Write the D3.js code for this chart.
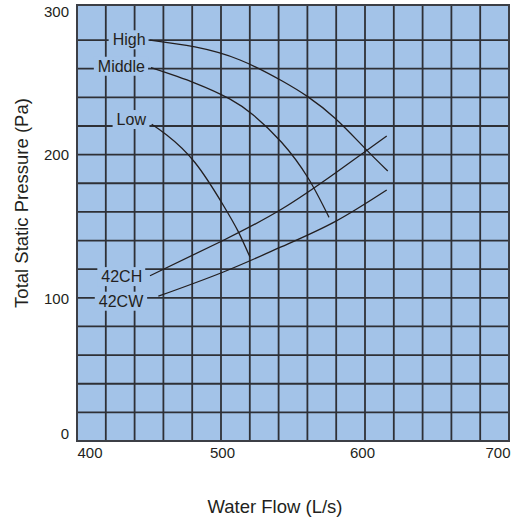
<!DOCTYPE html>
<html>

<head>
    <meta charset="utf-8">
    <script src="https://cdn.jsdelivr.net/npm/d3@7"></script>
    <style>
        body { margin: 0; background: #fff; }
        text { font-family: Arial, "Liberation Sans", sans-serif; fill: #231f20; }
    </style>
</head>

<body>
    <div id="my_dataviz"></div>
    <script>

        // ---- data (flow L/s, pressure Pa) ----
        var highCurve = [[450.7, 280], [481.9, 275.2], [513.2, 266.1], [542.2, 251.6], [560.2, 240.5], [579.2, 225.4], [600, 204.4], [615.8, 188.6]];
        var middleCurve = [[451.4, 260.7], [481.9, 250], [506.3, 238.8], [522.4, 227.7], [542.2, 208.5], [560.6, 183.5], [575, 156.2]];
        var lowCurve = [[451.9, 221.2], [462.3, 213.7], [481.9, 194.5], [502.1, 163.8], [512, 146.2], [520.1, 128.5]];
        var ch42Curve = [[450.7, 115.4], [502.1, 140.4], [542.2, 162], [579.2, 187], [615.1, 213]];
        var cw42Curve = [[456.5, 101.1], [502.1, 118.2], [542.2, 135.7], [579.2, 153.2], [615.1, 175.3]];

        var curveNames = ["High", "Middle", "Low", "42CH", "42CW"];
        var curves = [highCurve, middleCurve, lowCurve, ch42Curve, cw42Curve];
        // where each label ends (data units)
        var labelAnchors = [[447.6, 280.4], [447.2, 261.9], [447.9, 224.7], [445.3, 115], [446, 97.8]];

        var xTicks = [400, 500, 600, 700];
        var yTicks = [0, 100, 200, 300];
        var xGrid = d3.range(420, 700, 20);
        var yGrid = d3.range(20, 300, 20);

        var W = 518, H = 522;
        var plot = { left: 77, right: 509, top: 5, bottom: 441 };

        var svg = d3.select("#my_dataviz")
            .append("svg")
            .attr("width", W)
            .attr("height", H);

        var x = d3.scaleLinear().domain([400, 700]).range([plot.left, plot.right]);
        var y = d3.scaleLinear().domain([0, 304.5]).range([plot.bottom, plot.top]);

        // plot background
        svg.append("rect")
            .attr("x", plot.left)
            .attr("y", plot.top)
            .attr("width", plot.right - plot.left)
            .attr("height", plot.bottom - plot.top)
            .attr("fill", "#a3c3e8");

        // grid
        var grid = svg.append("g").attr("stroke", "#2e3036").attr("stroke-width", 1.8);
        grid.selectAll(".vx").data(xGrid).enter().append("line")
            .attr("x1", function (d) { return x(d); })
            .attr("x2", function (d) { return x(d); })
            .attr("y1", plot.top)
            .attr("y2", plot.bottom);
        grid.selectAll(".hy").data(yGrid).enter().append("line")
            .attr("x1", plot.left)
            .attr("x2", plot.right)
            .attr("y1", function (d) { return y(d); })
            .attr("y2", function (d) { return y(d); });

        // frame
        svg.append("rect")
            .attr("x", plot.left)
            .attr("y", plot.top)
            .attr("width", plot.right - plot.left)
            .attr("height", plot.bottom - plot.top)
            .attr("fill", "none")
            .attr("stroke", "#3c3f46")
            .attr("stroke-width", 2);

        // axes (labels only)
        var xAxis = svg.append("g")
            .attr("transform", "translate(0," + plot.bottom + ")")
            .call(d3.axisBottom(x).tickValues(xTicks).tickSize(0).tickPadding(6));
        var yAxis = svg.append("g")
            .attr("transform", "translate(" + plot.left + ",0)")
            .call(d3.axisLeft(y).tickValues(yTicks).tickSize(0).tickPadding(8));
        svg.selectAll(".domain").remove();
        svg.selectAll(".tick text").style("font-size", "15px")
            .style("font-family", "Arial, 'Liberation Sans', sans-serif")
            .attr("fill", "#231f20");
        xAxis.selectAll(".tick text")
            .attr("dy", "0.75em")
            .attr("text-anchor", function (d, i) { return i === 0 ? "start" : (i === xTicks.length - 1 ? "end" : "middle"); })
            .attr("dx", function (d, i) { return i === 0 ? 0 : (i === xTicks.length - 1 ? 1 : (d === 600 ? -3 : 1)); });
        yAxis.selectAll(".tick text")
            .attr("dy", function (d) { return d === 0 ? "-0.2em" : "0.35em"; });

        // label boxes + labels
        var labelLayer = svg.append("g");
        curveNames.forEach(function (name, i) {
            var g = labelLayer.append("g");
            var t = g.append("text")
                .attr("x", x(labelAnchors[i][0]))
                .attr("y", y(labelAnchors[i][1]))
                .attr("dy", "0.36em")
                .attr("text-anchor", "end")
                .style("font-size", "16px")
                .text(name);
            var b = t.node().getBBox();
            g.insert("rect", "text")
                .attr("x", b.x - 4)
                .attr("y", b.y - 1)
                .attr("width", b.width + 7)
                .attr("height", b.height + 2)
                .attr("fill", "#a3c3e8");
        });

        // curves
        var line = d3.line()
            .x(function (d) { return x(d[0]); })
            .y(function (d) { return y(d[1]); })
            .curve(d3.curveNatural);
        svg.append("g")
            .selectAll("path")
            .data(curves)
            .enter().append("path")
            .attr("d", line)
            .attr("fill", "none")
            .attr("stroke", "#231f20")
            .attr("stroke-width", 1.3);

        // axis titles
        svg.append("text")
            .attr("x", 275)
            .attr("y", 513)
            .attr("text-anchor", "middle")
            .style("font-size", "18.5px")
            .text("Water Flow (L/s)");
        svg.append("text")
            .attr("transform", "translate(28,203)rotate(-90)")
            .attr("text-anchor", "middle")
            .style("font-size", "18.5px")
            .text("Total Static Pressure (Pa)");

    </script>
</body>

</html>
